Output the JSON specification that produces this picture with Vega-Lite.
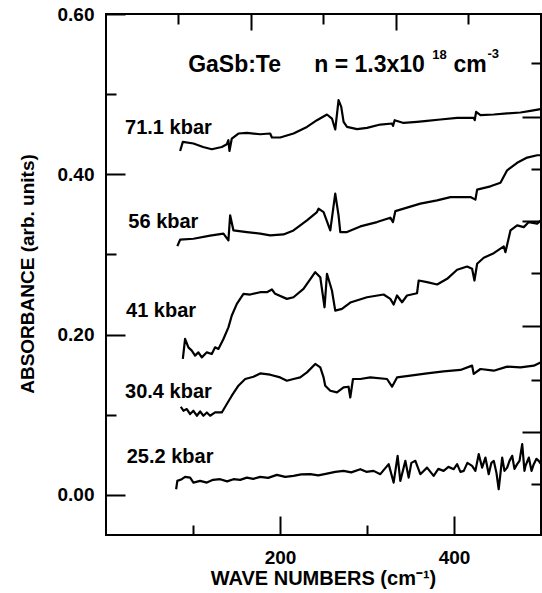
{
  "$schema": "https://vega.github.io/schema/vega-lite/v6.json",
  "width": 435,
  "height": 521,
  "autosize": {"type": "none"},
  "padding": {"left": 106, "top": 14, "right": 1, "bottom": 58},
  "background": "white",
  "config": {
    "view": {"stroke": "black", "strokeWidth": 2},
    "axis": {
      "domain": false, "grid": false, "tickColor": "black", "tickWidth": 2,
      "labelColor": "black", "titleColor": "black",
      "labelFont": "Liberation Sans", "labelFontWeight": "bold", "labelFontSize": 19,
      "titleFont": "Liberation Sans", "titleFontWeight": "bold",
      "labelFlush": false, "labelOverlap": false
    }
  },
  "datasets": {
    "lines": [
      {"s":"71.1","x":85.2,"y":0.4291},{"s":"71.1","x":88.3,"y":0.4404},{"s":"71.1","x":100.5,"y":0.4384},{"s":"71.1","x":111.6,"y":0.4341},{"s":"71.1","x":121.6,"y":0.4313},{"s":"71.1","x":133.1,"y":0.4341},{"s":"71.1","x":138.9,"y":0.4375},{"s":"71.1","x":140.7,"y":0.4425},{"s":"71.1","x":141.9,"y":0.4291},{"s":"71.1","x":144.6,"y":0.4446},{"s":"71.1","x":152.2,"y":0.4509},{"s":"71.1","x":161.9,"y":0.4516},{"s":"71.1","x":177.2,"y":0.45},{"s":"71.1","x":188.7,"y":0.4509},{"s":"71.1","x":190.7,"y":0.4459},{"s":"71.1","x":200.2,"y":0.4459},{"s":"71.1","x":215.5,"y":0.4509},{"s":"71.1","x":231,"y":0.4591},{"s":"71.1","x":242.5,"y":0.4675},{"s":"71.1","x":254,"y":0.4746},{"s":"71.1","x":259.7,"y":0.4696},{"s":"71.1","x":263.5,"y":0.4559},{"s":"71.1","x":267.3,"y":0.4925},{"s":"71.1","x":270.4,"y":0.4841},{"s":"71.1","x":273.1,"y":0.4654},{"s":"71.1","x":277,"y":0.4591},{"s":"71.1","x":288.5,"y":0.4563},{"s":"71.1","x":300,"y":0.4579},{"s":"71.1","x":315.3,"y":0.4621},{"s":"71.1","x":328.8,"y":0.4634},{"s":"71.1","x":329.9,"y":0.4604},{"s":"71.1","x":331.8,"y":0.4675},{"s":"71.1","x":342.1,"y":0.4641},{"s":"71.1","x":357.5,"y":0.4654},{"s":"71.1","x":369,"y":0.4666},{"s":"71.1","x":384.4,"y":0.4684},{"s":"71.1","x":403.6,"y":0.4704},{"s":"71.1","x":422.7,"y":0.4704},{"s":"71.1","x":423.8,"y":0.4675},{"s":"71.1","x":425.4,"y":0.4779},{"s":"71.1","x":430.4,"y":0.4738},{"s":"71.1","x":445.7,"y":0.4746},{"s":"71.1","x":461.1,"y":0.4759},{"s":"71.1","x":476.4,"y":0.4771},{"s":"71.1","x":487.9,"y":0.4791},{"s":"71.1","x":499.4,"y":0.4813},
      {"s":"56","x":82,"y":0.3104},{"s":"56","x":85.2,"y":0.3184},{"s":"56","x":100.5,"y":0.3196},{"s":"56","x":119.7,"y":0.3234},{"s":"56","x":135,"y":0.3259},{"s":"56","x":140.7,"y":0.3175},{"s":"56","x":142.7,"y":0.3488},{"s":"56","x":146.5,"y":0.33},{"s":"56","x":161.9,"y":0.3279},{"s":"56","x":177.2,"y":0.3259},{"s":"56","x":188.7,"y":0.3238},{"s":"56","x":204,"y":0.325},{"s":"56","x":215.5,"y":0.33},{"s":"56","x":231,"y":0.3425},{"s":"56","x":242.5,"y":0.3529},{"s":"56","x":244.3,"y":0.3571},{"s":"56","x":250.1,"y":0.3529},{"s":"56","x":257.8,"y":0.33},{"s":"56","x":263.5,"y":0.3759},{"s":"56","x":267.3,"y":0.3488},{"s":"56","x":269.3,"y":0.3279},{"s":"56","x":277,"y":0.3279},{"s":"56","x":292.3,"y":0.335},{"s":"56","x":311.5,"y":0.3404},{"s":"56","x":326.8,"y":0.3459},{"s":"56","x":329.9,"y":0.3404},{"s":"56","x":332.6,"y":0.3541},{"s":"56","x":346,"y":0.3584},{"s":"56","x":361.3,"y":0.3634},{"s":"56","x":380.6,"y":0.3675},{"s":"56","x":395.9,"y":0.3716},{"s":"56","x":418.9,"y":0.3716},{"s":"56","x":424.6,"y":0.3684},{"s":"56","x":426.6,"y":0.3809},{"s":"56","x":441.9,"y":0.385},{"s":"56","x":453.4,"y":0.3894},{"s":"56","x":461.1,"y":0.405},{"s":"56","x":472.6,"y":0.4144},{"s":"56","x":484.1,"y":0.4209},{"s":"56","x":495.6,"y":0.4238},{"s":"56","x":500,"y":0.4238},
      {"s":"41","x":88.3,"y":0.1696},{"s":"41","x":90.9,"y":0.1946},{"s":"41","x":94.7,"y":0.1841},{"s":"41","x":98.6,"y":0.18},{"s":"41","x":102.4,"y":0.1738},{"s":"41","x":106.2,"y":0.1779},{"s":"41","x":110.1,"y":0.1716},{"s":"41","x":115.9,"y":0.1779},{"s":"41","x":121.6,"y":0.1759},{"s":"41","x":125.4,"y":0.1841},{"s":"41","x":129.2,"y":0.1821},{"s":"41","x":135,"y":0.1946},{"s":"41","x":140.7,"y":0.2091},{"s":"41","x":144.6,"y":0.2238},{"s":"41","x":150.4,"y":0.2384},{"s":"41","x":158,"y":0.2509},{"s":"41","x":165.7,"y":0.25},{"s":"41","x":177.2,"y":0.2529},{"s":"41","x":184.9,"y":0.2529},{"s":"41","x":190.7,"y":0.2563},{"s":"41","x":194.5,"y":0.2509},{"s":"41","x":207.9,"y":0.2446},{"s":"41","x":215.5,"y":0.2466},{"s":"41","x":227,"y":0.2571},{"s":"41","x":240.5,"y":0.2779},{"s":"41","x":246.3,"y":0.2716},{"s":"41","x":251.2,"y":0.2341},{"s":"41","x":254,"y":0.2759},{"s":"41","x":259.7,"y":0.255},{"s":"41","x":263.5,"y":0.23},{"s":"41","x":271.2,"y":0.2321},{"s":"41","x":280.8,"y":0.24},{"s":"41","x":300,"y":0.2466},{"s":"41","x":319.1,"y":0.25},{"s":"41","x":326.8,"y":0.2446},{"s":"41","x":330.6,"y":0.2375},{"s":"41","x":334.5,"y":0.2488},{"s":"41","x":340.3,"y":0.2404},{"s":"41","x":346,"y":0.2488},{"s":"41","x":357.5,"y":0.2516},{"s":"41","x":359.4,"y":0.2675},{"s":"41","x":369,"y":0.2654},{"s":"41","x":380.6,"y":0.2625},{"s":"41","x":392.1,"y":0.2696},{"s":"41","x":403.6,"y":0.2809},{"s":"41","x":415.1,"y":0.285},{"s":"41","x":420.8,"y":0.2821},{"s":"41","x":423.5,"y":0.2675},{"s":"41","x":426.6,"y":0.2884},{"s":"41","x":434.2,"y":0.2959},{"s":"41","x":445.7,"y":0.3016},{"s":"41","x":457.2,"y":0.31},{"s":"41","x":459.1,"y":0.3029},{"s":"41","x":464.9,"y":0.33},{"s":"41","x":472.6,"y":0.3363},{"s":"41","x":480.2,"y":0.3341},{"s":"41","x":486,"y":0.3404},{"s":"41","x":495.6,"y":0.3384},{"s":"41","x":500,"y":0.3425},
      {"s":"30.4","x":86,"y":0.11},{"s":"30.4","x":89,"y":0.105},{"s":"30.4","x":92.9,"y":0.1071},{"s":"30.4","x":96.7,"y":0.1009},{"s":"30.4","x":100.5,"y":0.105},{"s":"30.4","x":104.4,"y":0.0988},{"s":"30.4","x":108.2,"y":0.1041},{"s":"30.4","x":112,"y":0.0988},{"s":"30.4","x":115.9,"y":0.1029},{"s":"30.4","x":119.7,"y":0.0988},{"s":"30.4","x":125.4,"y":0.1029},{"s":"30.4","x":133.1,"y":0.1029},{"s":"30.4","x":138.9,"y":0.1134},{"s":"30.4","x":144.6,"y":0.1238},{"s":"30.4","x":152.2,"y":0.1363},{"s":"30.4","x":160,"y":0.1446},{"s":"30.4","x":169.5,"y":0.1475},{"s":"30.4","x":177.2,"y":0.1516},{"s":"30.4","x":188.7,"y":0.15},{"s":"30.4","x":200.2,"y":0.1466},{"s":"30.4","x":207.9,"y":0.1425},{"s":"30.4","x":215.5,"y":0.1446},{"s":"30.4","x":223.2,"y":0.1466},{"s":"30.4","x":231,"y":0.1529},{"s":"30.4","x":240.5,"y":0.1634},{"s":"30.4","x":246.3,"y":0.1591},{"s":"30.4","x":250.1,"y":0.1466},{"s":"30.4","x":252,"y":0.1363},{"s":"30.4","x":257.8,"y":0.13},{"s":"30.4","x":265.5,"y":0.1279},{"s":"30.4","x":273.1,"y":0.1341},{"s":"30.4","x":278.8,"y":0.135},{"s":"30.4","x":280.8,"y":0.1216},{"s":"30.4","x":283.9,"y":0.1446},{"s":"30.4","x":292.3,"y":0.1446},{"s":"30.4","x":303.8,"y":0.1466},{"s":"30.4","x":323,"y":0.1446},{"s":"30.4","x":328.8,"y":0.135},{"s":"30.4","x":334.5,"y":0.1466},{"s":"30.4","x":349.8,"y":0.1488},{"s":"30.4","x":369,"y":0.1516},{"s":"30.4","x":388.1,"y":0.1541},{"s":"30.4","x":407.4,"y":0.1559},{"s":"30.4","x":420.8,"y":0.1613},{"s":"30.4","x":422.7,"y":0.1509},{"s":"30.4","x":430.4,"y":0.1571},{"s":"30.4","x":445.7,"y":0.155},{"s":"30.4","x":461.1,"y":0.16},{"s":"30.4","x":476.4,"y":0.1591},{"s":"30.4","x":491.7,"y":0.1613},{"s":"30.4","x":500,"y":0.1654},
      {"s":"25.2","x":80.6,"y":0.0071},{"s":"25.2","x":82,"y":0.0175},{"s":"25.2","x":87.1,"y":0.0196},{"s":"25.2","x":90.9,"y":0.0225},{"s":"25.2","x":96.7,"y":0.0216},{"s":"25.2","x":100.5,"y":0.0154},{"s":"25.2","x":108.2,"y":0.0175},{"s":"25.2","x":115.9,"y":0.0154},{"s":"25.2","x":123.1,"y":0.0188},{"s":"25.2","x":131.2,"y":0.0196},{"s":"25.2","x":139.2,"y":0.0169},{"s":"25.2","x":146.5,"y":0.0196},{"s":"25.2","x":154.2,"y":0.0188},{"s":"25.2","x":161.9,"y":0.0216},{"s":"25.2","x":169.2,"y":0.02},{"s":"25.2","x":177.2,"y":0.0225},{"s":"25.2","x":186.4,"y":0.0213},{"s":"25.2","x":196.4,"y":0.025},{"s":"25.2","x":206,"y":0.0225},{"s":"25.2","x":215.5,"y":0.0238},{"s":"25.2","x":224.4,"y":0.0256},{"s":"25.2","x":234.8,"y":0.0259},{"s":"25.2","x":244,"y":0.0244},{"s":"25.2","x":254,"y":0.0266},{"s":"25.2","x":263.5,"y":0.0288},{"s":"25.2","x":273.1,"y":0.03},{"s":"25.2","x":281.9,"y":0.0281},{"s":"25.2","x":292.3,"y":0.0321},{"s":"25.2","x":299.2,"y":0.0288},{"s":"25.2","x":307.6,"y":0.03},{"s":"25.2","x":315.3,"y":0.0259},{"s":"25.2","x":324.9,"y":0.0384},{"s":"25.2","x":330.6,"y":0.0154},{"s":"25.2","x":335.2,"y":0.0488},{"s":"25.2","x":338.3,"y":0.0175},{"s":"25.2","x":344.1,"y":0.0425},{"s":"25.2","x":347.9,"y":0.0216},{"s":"25.2","x":351,"y":0.04},{"s":"25.2","x":355.6,"y":0.0425},{"s":"25.2","x":361.3,"y":0.0259},{"s":"25.2","x":369,"y":0.0341},{"s":"25.2","x":376.6,"y":0.0238},{"s":"25.2","x":382,"y":0.0325},{"s":"25.2","x":388.1,"y":0.03},{"s":"25.2","x":393.6,"y":0.035},{"s":"25.2","x":399.7,"y":0.0321},{"s":"25.2","x":403.6,"y":0.0384},{"s":"25.2","x":407.4,"y":0.0288},{"s":"25.2","x":411.2,"y":0.03},{"s":"25.2","x":415.4,"y":0.04},{"s":"25.2","x":420.8,"y":0.0363},{"s":"25.2","x":424.6,"y":0.03},{"s":"25.2","x":428.4,"y":0.0509},{"s":"25.2","x":432.3,"y":0.0341},{"s":"25.2","x":436.1,"y":0.0466},{"s":"25.2","x":439.9,"y":0.0259},{"s":"25.2","x":443,"y":0.04},{"s":"25.2","x":445.7,"y":0.0425},{"s":"25.2","x":448.8,"y":0.0275},{"s":"25.2","x":451.4,"y":0.0071},{"s":"25.2","x":455.4,"y":0.0466},{"s":"25.2","x":458,"y":0.03},{"s":"25.2","x":461.1,"y":0.0341},{"s":"25.2","x":463.8,"y":0.0425},{"s":"25.2","x":466.9,"y":0.0488},{"s":"25.2","x":469.5,"y":0.0325},{"s":"25.2","x":472.6,"y":0.0384},{"s":"25.2","x":475.3,"y":0.0425},{"s":"25.2","x":478.4,"y":0.0634},{"s":"25.2","x":481,"y":0.03},{"s":"25.2","x":482.2,"y":0.0363},{"s":"25.2","x":486,"y":0.0466},{"s":"25.2","x":489.1,"y":0.03},{"s":"25.2","x":491.7,"y":0.0384},{"s":"25.2","x":494.8,"y":0.045},{"s":"25.2","x":497.4,"y":0.0425},{"s":"25.2","x":500,"y":0.0384}
    ],
    "labels": [
      {"label":"71.1 kbar","x":21.9,"y":0.45},
      {"label":"56 kbar","x":25.7,"y":0.3325},
      {"label":"41 kbar","x":23,"y":0.2216},
      {"label":"30.4 kbar","x":21.9,"y":0.1204},
      {"label":"25.2 kbar","x":23.8,"y":0.0404}
    ],
    "annot": [
      {"label":"GaSb:Te","x":94.4,"y":0.5275},
      {"label":"n = 1.3x10","x":239.4,"y":0.5275},
      {"label":"cm","x":399.3,"y":0.5275}
    ],
    "sup": [
      {"label":"18","x":375.1,"y":0.5438},
      {"label":"-3","x":438.4,"y":0.545}
    ]
  },
  "resolve": {"axis": {"x": "independent", "y": "independent"}},
  "layer": [
    {
      "data": {"name": "lines"},
      "mark": {"type": "line", "color": "black", "strokeWidth": 2.2, "strokeJoin": "round"},
      "encoding": {
        "x": {"field": "x", "type": "quantitative",
              "scale": {"domain": [0, 500], "nice": false, "zero": false},
              "axis": {"orient": "bottom", "values": [200, 400], "tickSize": -19, "labelPadding": 47,
                       "labelBaseline": "alphabetic", "format": "d",
                       "title": "WAVE NUMBERS (cm⁻¹)", "titleFontSize": 20,
                       "titleBaseline": "alphabetic", "titleY": 49, "titleX": 217}},
        "y": {"field": "y", "type": "quantitative",
              "scale": {"domain": [-0.05, 0.6], "nice": false, "zero": false},
              "axis": {"orient": "left", "values": [0, 0.2, 0.4, 0.6], "tickSize": -19, "labelPadding": 31,
                       "format": ".2f",
                       "title": "ABSORBANCE (arb. units)", "titleFontSize": 19,
                       "titleBaseline": "alphabetic", "titleAngle": -90, "titleAlign": "center",
                       "titleX": -73, "titleY": 259.5}},
        "detail": {"field": "s", "type": "nominal"}
      }
    },
    {
      "data": {"name": "labels"},
      "mark": {"type": "text", "font": "Liberation Sans", "fontWeight": "bold", "fontSize": 20,
               "align": "left", "baseline": "alphabetic", "color": "black"},
      "encoding": {
        "x": {"field": "x", "type": "quantitative",
              "scale": {"domain": [0, 500], "nice": false, "zero": false},
              "axis": {"orient": "bottom", "values": [100, 300], "tickSize": -10, "labels": false, "title": null}},
        "y": {"field": "y", "type": "quantitative",
              "scale": {"domain": [-0.05, 0.6], "nice": false, "zero": false},
              "axis": {"orient": "left", "values": [0.1, 0.3, 0.5], "tickSize": -10, "labels": false, "title": null}},
        "text": {"field": "label"}
      }
    },
    {
      "data": {"name": "annot"},
      "mark": {"type": "text", "font": "Liberation Sans", "fontWeight": "bold", "fontSize": 23,
               "align": "left", "baseline": "alphabetic", "color": "black"},
      "encoding": {
        "x": {"field": "x", "type": "quantitative",
              "scale": {"domain": [0, 500], "nice": false, "zero": false},
              "axis": {"orient": "top", "values": [166.5, 333.4], "tickSize": -16, "labels": false, "title": null}},
        "y": {"field": "y", "type": "quantitative",
              "scale": {"domain": [-0.05, 0.6], "nice": false, "zero": false},
              "axis": {"orient": "right", "values": [0.4713, 0.3413, 0.2113, 0.0788], "tickSize": -19, "labels": false, "title": null}},
        "text": {"field": "label"}
      }
    },
    {
      "data": {"name": "sup"},
      "mark": {"type": "text", "font": "Liberation Sans", "fontWeight": "bold", "fontSize": 13,
               "align": "left", "baseline": "alphabetic", "color": "black"},
      "encoding": {
        "x": {"field": "x", "type": "quantitative",
              "scale": {"domain": [0, 500], "nice": false, "zero": false},
              "axis": {"orient": "top", "values": [83.2, 249.4, 416.6], "tickSize": -10, "labels": false, "title": null}},
        "y": {"field": "y", "type": "quantitative",
              "scale": {"domain": [-0.05, 0.6], "nice": false, "zero": false},
              "axis": {"orient": "right", "values": [0.5388, 0.4063, 0.2763, 0.1438, 0.0138], "tickSize": -10, "labels": false, "title": null}},
        "text": {"field": "label"}
      }
    }
  ]
}
